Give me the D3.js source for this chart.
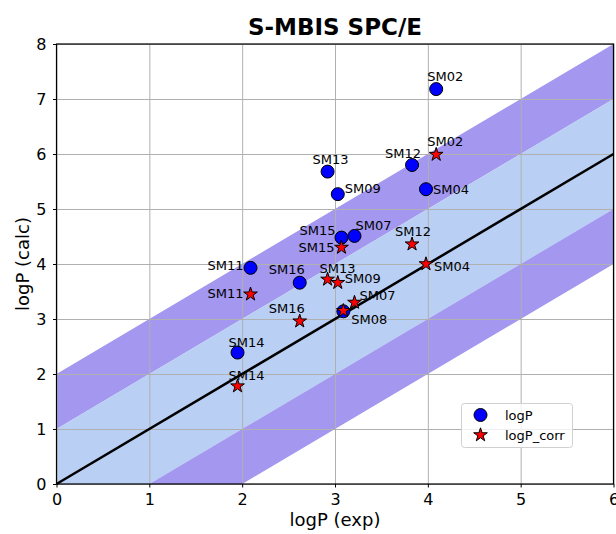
<!DOCTYPE html>
<html>
<head>
  <meta charset="utf-8">
  <script src="https://d3js.org/d3.v7.min.js"></script>
  <style>
    body { margin: 0; background: #fff; }
    text { font-family: "DejaVu Sans", sans-serif; fill: #000; }
    .grid line { stroke: #b0b0b0; stroke-width: 1; }
    .grid .domain { stroke: none; }
    .axis .domain { stroke: none; }
    .axis line { stroke: #000; }
    .axis text { font-size: 16px; }
    .pt-label { font-size: 13px; }
  </style>
</head>
<body>
<svg id="chart" width="616" height="534"></svg>
<script>
// --- data ---
const names    = ["SM02", "SM13", "SM09", "SM12", "SM04", "SM15", "SM07", "SM11", "SM16", "SM08", "SM14"];
const logPExp  = [4.09, 2.92, 3.03, 3.83, 3.98, 3.07, 3.21, 2.09, 2.62, 3.09, 1.95];
const logPCalc = [7.18, 5.68, 5.27, 5.80, 5.36, 4.48, 4.51, 3.93, 3.66, 3.14, 2.39];
const logPCorr = [5.99, 3.72, 3.66, 4.36, 4.00, 4.30, 3.30, 3.45, 2.96, 3.15, 1.78];
const xTicks = [0, 1, 2, 3, 4, 5, 6];
const yTicks = [0, 1, 2, 3, 4, 5, 6, 7, 8];

// label nudges (px) so the names sit like in the original
// (SM08 star label sits exactly under the circle one, so only one is drawn)
const circleLabelOffset = {
  SM02: [-9, -8], SM13: [-15, -8], SM09: [7, -1], SM12: [-27, -7], SM04: [7, 5],
  SM15: [-42, -3], SM07: [1, -6], SM11: [-43, 2], SM16: [-31, -9], SM08: [8, 13], SM14: [-9, -6]
};
const starLabelOffset = {
  SM02: [-9, -9], SM13: [-8, -6], SM09: [7, 0], SM12: [-17, -8], SM04: [8, 7],
  SM15: [-43, 4], SM07: [5, -3], SM11: [-43, 4], SM16: [-31, -8], SM14: [-9, -6]
};

const svg = d3.select("#chart");
const plot = {left: 56.5, right: 613.5, top: 44, bottom: 484};

const x = d3.scaleLinear().domain([0, 6]).range([plot.left, plot.right]);
const y = d3.scaleLinear().domain([0, 8]).range([plot.bottom, plot.top]);

svg.append("defs").append("clipPath").attr("id", "clip")
   .append("rect")
   .attr("x", plot.left).attr("y", plot.top)
   .attr("width", plot.right - plot.left).attr("height", plot.bottom - plot.top);

// bands around the diagonal
const band = (lo, hi) => d3.area()
  .x(d => x(d)).y0(d => y(d + lo)).y1(d => y(d + hi));
const bandG = svg.append("g").attr("clip-path", "url(#clip)");
const xs = [0, 6];
bandG.append("path").attr("d", band(1, 2)(xs)).attr("fill", "#a397ef");
bandG.append("path").attr("d", band(-1, 1)(xs)).attr("fill", "#b9cff4");
bandG.append("path").attr("d", band(-2, -1)(xs)).attr("fill", "#a397ef");

// gridlines
svg.append("g").attr("class", "grid")
   .attr("transform", `translate(0,${plot.bottom})`)
   .call(d3.axisBottom(x).tickValues(xTicks).tickFormat("").tickSize(-(plot.bottom - plot.top)));
svg.append("g").attr("class", "grid")
   .attr("transform", `translate(${plot.left},0)`)
   .call(d3.axisLeft(y).tickValues(yTicks).tickFormat("").tickSize(-(plot.right - plot.left)));

// y = x line
svg.append("line")
   .attr("x1", x(0)).attr("y1", y(0)).attr("x2", x(6)).attr("y2", y(6))
   .attr("stroke", "#000").attr("stroke-width", 2.5);

// frame
svg.append("rect")
   .attr("x", plot.left).attr("y", plot.top)
   .attr("width", plot.right - plot.left).attr("height", plot.bottom - plot.top)
   .attr("fill", "none").attr("stroke", "#000").attr("stroke-width", 1.2);

// axes
svg.append("g").attr("class", "axis")
   .attr("transform", `translate(0,${plot.bottom})`)
   .call(d3.axisBottom(x).tickValues(xTicks).tickFormat(d3.format("d")).tickSize(3.5).tickPadding(6));
svg.append("g").attr("class", "axis")
   .attr("transform", `translate(${plot.left},0)`)
   .call(d3.axisLeft(y).tickValues(yTicks).tickFormat(d3.format("d")).tickSize(3.5).tickPadding(6.5));

// points
const rows = names.map((n, i) => ({name: n, xe: logPExp[i], yc: logPCalc[i], yr: logPCorr[i]}));
const starPath = d3.symbol().type(d3.symbolStar).size(58)();

svg.append("g").selectAll("circle")
   .data(rows).join("circle")
   .attr("cx", d => x(d.xe)).attr("cy", d => y(d.yc)).attr("r", 6.5)
   .attr("fill", "#0000ff").attr("stroke", "#000").attr("stroke-width", 1);

svg.append("g").selectAll("path")
   .data(rows).join("path")
   .attr("d", starPath)
   .attr("transform", d => `translate(${x(d.xe)},${y(d.yr)})`)
   .attr("fill", "#ff0000").attr("stroke", "#000").attr("stroke-width", 1);

// labels
svg.append("g").selectAll("text")
   .data(rows).join("text").attr("class", "pt-label")
   .attr("x", d => x(d.xe) + circleLabelOffset[d.name][0])
   .attr("y", d => y(d.yc) + circleLabelOffset[d.name][1])
   .text(d => d.name);
svg.append("g").selectAll("text")
   .data(rows.filter(d => starLabelOffset[d.name])).join("text").attr("class", "pt-label")
   .attr("x", d => x(d.xe) + starLabelOffset[d.name][0])
   .attr("y", d => y(d.yr) + starLabelOffset[d.name][1])
   .text(d => d.name);

// legend
const leg = svg.append("g").attr("transform", "translate(461.5,403.5)");
leg.append("rect").attr("width", 111).attr("height", 44).attr("rx", 3)
   .attr("fill", "#fff").attr("fill-opacity", 0.8).attr("stroke", "#d0d0d0");
leg.append("circle").attr("cx", 19).attr("cy", 11.5).attr("r", 6.5)
   .attr("fill", "#0000ff").attr("stroke", "#000");
leg.append("path").attr("d", starPath).attr("transform", "translate(19,31.5)")
   .attr("fill", "#ff0000").attr("stroke", "#000");
leg.append("text").attr("x", 43.5).attr("y", 16).attr("font-size", "13px").text("logP");
leg.append("text").attr("x", 43.5).attr("y", 36).attr("font-size", "13px").text("logP_corr");

// titles
svg.append("text").attr("x", (plot.left + plot.right) / 2).attr("y", 35)
   .attr("text-anchor", "middle").attr("font-size", "23px").attr("font-weight", "bold")
   .text("S-MBIS SPC/E");
svg.append("text").attr("x", (plot.left + plot.right) / 2).attr("y", 526)
   .attr("text-anchor", "middle").attr("font-size", "18px").text("logP (exp)");
svg.append("text")
   .attr("transform", `translate(29,${(plot.top + plot.bottom) / 2}) rotate(-90)`)
   .attr("text-anchor", "middle").attr("font-size", "18px").text("logP (calc)");
</script>
</body>
</html>
